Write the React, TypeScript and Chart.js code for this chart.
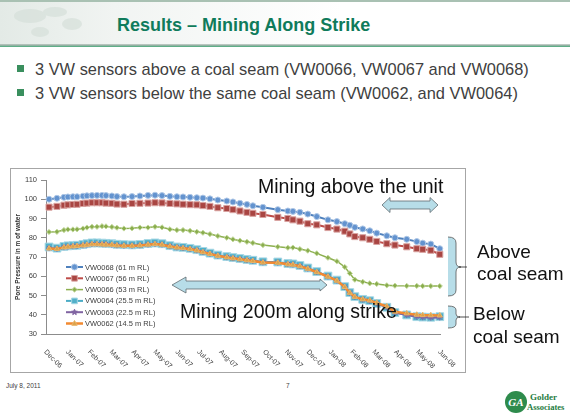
import React, { useEffect, useRef } from 'react';
import { Chart, registerables } from 'chart.js';
Chart.register(...registerables);

// ---------- data ----------
const monthLabels = ['Dec-06','Jan-07','Feb-07','Mar-07','Apr-07','May-07','Jun-07','Jul-07','Aug-07','Sep-07','Oct-07','Nov-07','Dec-07','Jan-08','Feb-08','Mar-08','Apr-08','May-08','Jun-08'];
const yMin = 30;
const yMax = 110;
const yStep = 10;

// reading dates, in months after Dec-06
const sampleMonths = [
  0.14,0.50,0.82,1.00,1.23,1.42,1.69,1.87,2.10,2.33,
  2.56,2.74,3.01,3.24,3.56,3.93,4.29,4.66,4.98,5.30,
  5.66,5.98,6.26,6.58,6.89,7.17,7.49,7.85,8.26,8.54,
  8.86,9.18,9.45,9.91,10.59,11.05,11.28,11.60,11.96,12.37,
  12.88,13.29,13.65,13.88,14.11,14.47,14.79,15.11,15.57,15.94,
  16.48,16.94,17.21,17.58,17.99,
];
const vw0068 = [
  100.0,100.5,101.0,101.2,101.3,101.3,101.6,101.8,101.9,102.0,
  102.0,101.9,101.7,101.4,101.3,101.4,101.7,102.0,102.1,101.9,
  101.5,101.3,101.2,101.0,100.8,100.6,100.2,99.6,99.1,98.6,
  97.9,97.3,96.6,95.8,94.6,93.9,93.7,93.2,92.3,91.0,
  89.3,88.4,87.3,86.5,85.4,84.6,83.6,82.4,81.0,80.0,
  79.2,78.0,77.2,76.7,74.3,
];
const vw0067 = [
  95.9,96.3,96.9,97.1,97.3,97.4,97.8,98.0,98.2,98.2,
  98.2,98.0,97.9,97.5,97.4,97.8,97.9,98.0,98.2,98.1,
  97.8,97.6,97.4,97.2,97.1,96.7,96.3,95.6,95.2,94.6,
  93.9,93.2,92.7,92.1,90.6,90.0,89.3,88.6,87.3,86.7,
  85.3,84.5,83.4,82.0,80.6,80.0,79.2,78.1,76.9,76.2,
  75.3,74.3,74.0,73.5,71.4,
];
const vw0066 = [
  83.0,83.1,84.0,84.3,84.3,84.4,84.8,85.3,85.7,85.7,
  86.0,85.9,85.6,85.2,84.8,84.9,85.3,85.3,85.7,85.4,
  84.4,84.0,84.0,83.6,83.1,82.6,81.9,80.9,80.0,79.2,
  78.5,77.9,77.3,76.2,75.3,74.8,74.9,74.1,73.3,71.9,
  69.6,67.8,64.8,61.5,58.2,57.1,56.3,56.0,55.3,55.1,
  55.0,55.0,54.9,54.9,54.9,
];
const vw0064 = [
  75.2,74.6,75.5,75.8,75.9,76.1,76.5,76.9,77.3,77.3,
  77.2,77.1,76.9,76.6,76.4,76.3,76.5,77.0,77.3,76.9,
  75.9,75.2,75.0,74.5,73.8,72.9,72.0,71.0,70.2,69.7,
  69.2,68.7,68.3,67.5,67.4,66.6,66.4,65.6,64.3,62.4,
  60.1,58.0,54.6,51.5,49.4,48.0,47.3,45.9,43.9,41.1,
  39.9,39.0,38.8,38.7,39.0,
];
const vw0063 = [
  74.6,74.3,75.1,75.4,75.6,75.8,76.1,76.4,76.7,76.8,
  76.7,76.6,76.4,76.1,75.9,75.9,76.1,76.5,76.8,76.5,
  75.6,75.0,74.7,74.2,73.5,72.6,71.7,70.7,69.9,69.4,
  68.9,68.4,68.0,67.2,67.1,66.3,66.1,65.3,64.0,62.2,
  59.9,57.8,54.5,51.4,49.3,47.9,47.2,45.9,43.9,41.1,
  39.8,39.0,38.7,38.5,38.6,
];
const vw0062 = [
  74.4,74.2,75.0,75.3,75.5,75.7,76.0,76.3,76.6,76.6,
  76.5,76.4,76.3,76.0,75.8,75.8,76.0,76.4,76.7,76.4,
  75.5,74.9,74.6,74.1,73.4,72.5,71.6,70.6,69.8,69.3,
  68.8,68.3,67.9,67.1,67.0,66.2,66.0,65.2,63.9,62.1,
  59.8,57.7,54.4,51.4,49.3,48.0,47.4,46.2,44.3,41.6,
  40.7,40.0,39.8,39.7,39.6,
];
const seriesLabels = ['VW0068 (61 m RL)','VW0067 (56 m RL)','VW0066 (53 m RL)','VW0064 (25.5 m RL)','VW0063 (22.5 m RL)','VW0062 (14.5 m RL)'];
const seriesValues = [vw0068, vw0067, vw0066, vw0064, vw0063, vw0062];

// ---------- styles ----------
const seriesStyles = [
  { color: '#4f81bd', width: 2, shape: 'circle', radius: 3, fill: '#6393cf', border: '#b0c8e6', order: 5 },
  { color: '#be4b48', width: 2, shape: 'rect', radius: 4.3, fill: '#a94542', border: '#d9a3a1', order: 4 },
  { color: '#8db04f', width: 1.5, shape: 'rectRot', radius: 2.6, fill: '#8aad4e', border: '#c2d89c', order: 3 },
  { color: '#4bacc6', width: 2, shape: 'rect', radius: 5.5, fill: '#52b0c9', border: '#a5d7e4', order: 2 },
  { color: '#8064a2', width: 2, shape: 'star', radius: 3, fill: '#8064a2', border: '#8064a2', order: 1 },
  { color: '#f28a30', width: 2.5, shape: 'triangle', radius: 3, fill: '#d9a24a', border: '#e9b468', order: 0 },
];

const FONT = '"Liberation Sans", Arial, sans-serif';

function drawMarker(ctx: CanvasRenderingContext2D, shape: string, x: number, y: number, r: number, fill: string, border: string) {
  ctx.save();
  ctx.fillStyle = fill;
  ctx.strokeStyle = border;
  ctx.lineWidth = 1;
  ctx.beginPath();
  if (shape === 'circle') {
    ctx.arc(x, y, r, 0, Math.PI * 2);
  } else if (shape === 'rect') {
    const s = r * Math.SQRT1_2;
    ctx.rect(x - s, y - s, 2 * s, 2 * s);
  } else if (shape === 'rectRot') {
    ctx.moveTo(x, y - r); ctx.lineTo(x + r, y); ctx.lineTo(x, y + r); ctx.lineTo(x - r, y); ctx.closePath();
  } else if (shape === 'triangle') {
    ctx.moveTo(x, y - r); ctx.lineTo(x + r * 0.9, y + r * 0.6); ctx.lineTo(x - r * 0.9, y + r * 0.6); ctx.closePath();
  } else {
    for (let k = 0; k < 10; k++) {
      const a = -Math.PI / 2 + (k * Math.PI) / 5;
      const rr = k % 2 === 0 ? r : r * 0.45;
      const px = x + rr * Math.cos(a), py = y + rr * Math.sin(a);
      if (k === 0) ctx.moveTo(px, py); else ctx.lineTo(px, py);
    }
    ctx.closePath();
  }
  ctx.fill();
  ctx.stroke();
  ctx.restore();
}

const overlayPlugin = {
  id: 'overlayPlugin',
  afterDraw(chart: any) {
    const ctx: CanvasRenderingContext2D = chart.ctx;
    const xs = chart.scales.x;
    const area = chart.chartArea;
    ctx.save();
    // rotated month labels
    ctx.font = `7px ${FONT}`;
    ctx.fillStyle = '#404040';
    monthLabels.forEach((lab, i) => {
      const px = xs.getPixelForValue(i);
      ctx.save();
      ctx.translate(px - 1, area.bottom + 17);
      ctx.rotate(Math.PI / 4);
      ctx.textAlign = 'left';
      ctx.textBaseline = 'middle';
      ctx.fillText(lab, 0, 0);
      ctx.restore();
    });
    // legend inside plot
    const lx0 = area.left + 20;
    const lx1 = area.left + 37;
    let ly = area.top + 87;
    ctx.font = `7.5px ${FONT}`;
    ctx.textBaseline = 'middle';
    ctx.textAlign = 'left';
    seriesLabels.forEach((lab, i) => {
      const st = seriesStyles[i];
      ctx.strokeStyle = st.color;
      ctx.lineWidth = st.width;
      ctx.beginPath();
      ctx.moveTo(lx0, ly);
      ctx.lineTo(lx1, ly);
      ctx.stroke();
      drawMarker(ctx, st.shape, (lx0 + lx1) / 2, ly, Math.min(st.radius, 4), st.fill, st.border);
      ctx.fillStyle = '#404040';
      ctx.fillText(lab, lx1 + 2, ly + 0.5);
      ly += 11.3;
    });
    ctx.restore();
  },
};

function PoreChart() {
  const ref = useRef<HTMLCanvasElement | null>(null);
  useEffect(() => {
    if (!ref.current) return;
    const datasets = seriesLabels.map((label, i) => {
      const st = seriesStyles[i];
      return {
        label,
        data: sampleMonths.map((x, j) => ({ x, y: seriesValues[i][j] })),
        borderColor: st.color,
        borderWidth: st.width,
        backgroundColor: st.fill,
        pointStyle: st.shape,
        pointRadius: st.radius,
        pointBackgroundColor: st.fill,
        pointBorderColor: st.border,
        pointBorderWidth: 1,
        tension: 0,
        order: st.order,
        clip: false,
      };
    });
    const chart = new Chart(ref.current, {
      type: 'line',
      data: { datasets },
      options: {
        animation: false,
        responsive: false,
        devicePixelRatio: 1,
        layout: { padding: { top: 10, right: 26, left: 0, bottom: 0 } },
        plugins: { legend: { display: false }, tooltip: { enabled: false } },
        scales: {
          x: {
            type: 'linear',
            min: 0,
            max: monthLabels.length - 1,
            grid: { display: false },
            border: { display: true, color: '#8c8c8c', width: 1 },
            ticks: { display: false },
            afterFit: (s: any) => { s.height = 39; },
          },
          y: {
            min: yMin,
            max: yMax,
            ticks: { stepSize: yStep, color: '#404040', font: { family: FONT, size: 7.5 }, padding: 4 },
            grid: { drawOnChartArea: false, drawTicks: true, tickLength: 5, color: '#8c8c8c' },
            border: { display: true, color: '#8c8c8c', width: 1 },
            title: { display: true, text: 'Pore Pressure in m of water', color: '#333', font: { family: FONT, size: 6.5, weight: 'bold' }, padding: { top: 4, bottom: 0 } },
            afterFit: (s: any) => { s.width = 36; },
          },
        },
      },
      plugins: [overlayPlugin],
    } as any);
    return () => chart.destroy();
  }, []);
  return <canvas ref={ref} width={456} height={203} style={{ position: 'absolute', left: 10, top: 170, width: 456, height: 203 }} />;
}

export default function App() {
  return (
    <div style={{ position: 'absolute', left: 0, top: 0, width: 570, height: 419, background: '#fff', overflow: 'hidden', fontFamily: FONT }}>
      <svg width={570} height={419} style={{ position: 'absolute', left: 0, top: 0 }}>
        <defs>
          <linearGradient id="hdr" x1="0" x2="1" y1="0" y2="0">
            <stop offset="0" stopColor="#e3eae6" />
            <stop offset="0.2" stopColor="#f1f4f2" />
            <stop offset="0.6" stopColor="#ffffff" />
          </linearGradient>
        </defs>
        <rect x={0} y={2} width={570} height={43} fill="url(#hdr)" />
        <g fill="#d6e0da" opacity={0.7}>
          <ellipse cx={30} cy={16} rx={16} ry={7} />
          <ellipse cx={55} cy={12} rx={12} ry={5} />
          <ellipse cx={72} cy={24} rx={10} ry={6} />
          <ellipse cx={40} cy={32} rx={9} ry={5} />
        </g>
        <rect x={0} y={0} width={570} height={2} fill="#a9c1b3" />
        <rect x={0} y={44.5} width={570} height={1.2} fill="#7f9489" />
        <rect x={0} y={45.7} width={570} height={1.3} fill="#5fae88" />
        <text x={117} y={31} fontFamily={FONT} fontWeight="bold" fontSize={18} fill="#0f7b5b">Results – Mining Along Strike</text>
        <rect x={17} y={65} width={7} height={7} fill="#3a8f5e" />
        <text x={35} y={75} fontFamily={FONT} fontSize={16.4} fill="#404040">3 VW sensors above a coal seam (VW0066, VW0067 and VW0068)</text>
        <rect x={17} y={89} width={7} height={7} fill="#3a8f5e" />
        <text x={35} y={99} fontFamily={FONT} fontSize={16.4} fill="#404040">3 VW sensors below the same coal seam (VW0062, and VW0064)</text>
        <text x={6} y={388} fontFamily={FONT} fontSize={6.5} fill="#404040">July 8, 2011</text>
        <text x={286} y={388} fontFamily={FONT} fontSize={6.5} fill="#404040">7</text>
        <circle cx={516} cy={402} r={11} fill="#2e8b4c" />
        <text x={516} y={406} textAnchor="middle" fontFamily="'Liberation Serif', serif" fontStyle="italic" fontWeight="bold" fontSize={11} fill="#fff">GA</text>
        <text x={530} y={400} fontFamily="'Liberation Serif', serif" fontWeight="bold" fontSize={9} fill="#1f7d3f">Golder</text>
        <text x={527} y={410} fontFamily="'Liberation Serif', serif" fontWeight="bold" fontSize={8.5} fill="#1f7d3f">Associates</text>
      </svg>
      <PoreChart />
      <svg width={570} height={419} style={{ position: 'absolute', left: 0, top: 0, pointerEvents: 'none' }}>
        <rect x={10.5} y={168.5} width={455} height={204} fill="none" stroke="#a6a6a6" strokeWidth={1} />
        <text x={258} y={193} fontFamily={FONT} fontSize={19.5} fill="#111">Mining above the unit</text>
        <polygon points="382,205 390,197.5 390,201 430,201 430,197.5 438,205 430,212.5 430,209 390,209 390,212.5" fill="#b7dde8" stroke="#5f6b70" strokeWidth={0.8} />
        <polygon points="172,285 186,277 186,281 320,281 320,279 327,285 320,291 320,289 186,289 186,293" fill="#b7dde8" stroke="#5f6b70" strokeWidth={0.8} />
        <text x={180} y={318} fontFamily={FONT} fontSize={19.5} fill="#111">Mining 200m along strike</text>
        <path d="M448,237 Q456,237 456,243 L456,262 Q456,267 461,267 Q456,267 456,272 L456,290 Q456,296 448,296 Z" fill="#b7dde8" stroke="none" />
        <path d="M448,237 Q456,237 456,243 L456,262 Q456,267 461,267 Q456,267 456,272 L456,290 Q456,296 448,296" fill="none" stroke="#555" strokeWidth={0.8} />
        <line x1={459} y1={267} x2={467} y2={267} stroke="#222" strokeWidth={0.8} />
        <path d="M448,306 Q456,306 456,310 L456,314 Q456,317 460,317 Q456,317 456,320 L456,324 Q456,328 448,328 Z" fill="#b7dde8" stroke="none" />
        <path d="M448,306 Q456,306 456,310 L456,314 Q456,317 460,317 Q456,317 456,320 L456,324 Q456,328 448,328" fill="none" stroke="#555" strokeWidth={0.8} />
        <line x1={459} y1={317} x2={469} y2={317} stroke="#222" strokeWidth={0.8} />
        <text x={477} y={258} fontFamily={FONT} fontSize={19} fill="#111">Above</text>
        <text x={477} y={280} fontFamily={FONT} fontSize={19} fill="#111">coal seam</text>
        <text x={473} y={320} fontFamily={FONT} fontSize={19} fill="#111">Below</text>
        <text x={473} y={343} fontFamily={FONT} fontSize={19} fill="#111">coal seam</text>
      </svg>
    </div>
  );
}
